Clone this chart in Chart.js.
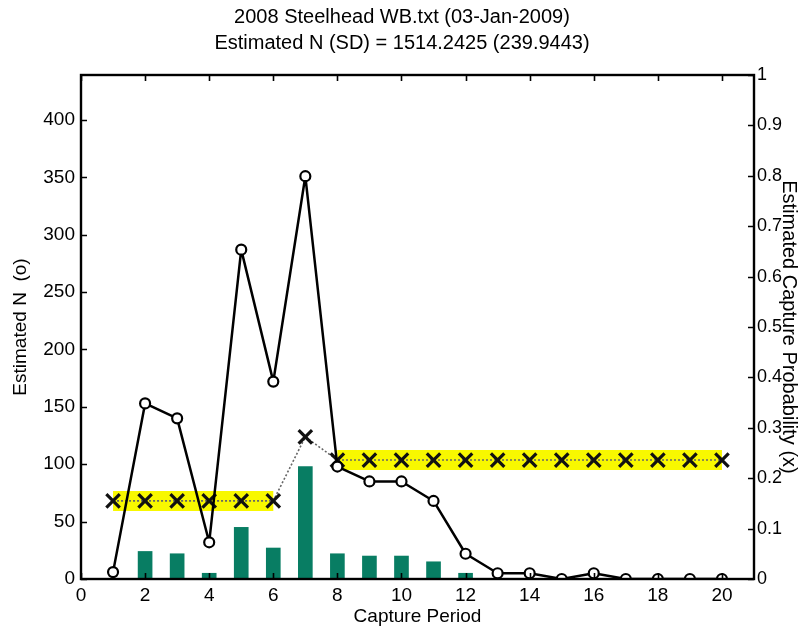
<!DOCTYPE html>
<html>
<head>
    <title>2008 Steelhead WB</title>
    <script src="https://cdn.jsdelivr.net/npm/chart.js"></script>
    <style>
        html, body { margin: 0; padding: 0; background: #fff; }
        #wrap { width: 804px; height: 632px; }
    </style>
</head>
<body>
    <div id="wrap">
        <canvas id="chart" width="804" height="632"></canvas>
    </div>

    <script>
        // capture periods 1..20
        const periods = [1, 2, 3, 4, 5, 6, 7, 8, 9, 10, 11, 12, 13, 14, 15, 16, 17, 18, 19, 20];
        // estimated N per period (o)
        const estN = [6, 153, 140, 32, 287, 172, 351, 98, 85, 85, 68, 22, 5, 5, 0, 5, 0, 0, 0, 0];
        // bar counts per period
        const barCounts = [0, 24, 22, 5, 45, 27, 98, 22, 20, 20, 15, 5, 0, 0, 0, 0, 0, 0, 0, 0];
        // estimated capture probability (x)
        const captureProb = [0.155, 0.155, 0.155, 0.155, 0.155, 0.155, 0.282,
                             0.236, 0.236, 0.236, 0.236, 0.236, 0.236, 0.236,
                             0.236, 0.236, 0.236, 0.236, 0.236, 0.236];
        // pooled strata band (gap at period 7)
        const bandProb = [0.155, 0.155, 0.155, 0.155, 0.155, 0.155, null,
                          0.236, 0.236, 0.236, 0.236, 0.236, 0.236, 0.236,
                          0.236, 0.236, 0.236, 0.236, 0.236, 0.236];

        const xTicks = [0, 2, 4, 6, 8, 10, 12, 14, 16, 18, 20];
        const nTicks = [0, 50, 100, 150, 200, 250, 300, 350, 400];
        const pTicks = [0, 0.1, 0.2, 0.3, 0.4, 0.5, 0.6, 0.7, 0.8, 0.9, 1];

        const titleLines = ['2008 Steelhead WB.txt (03-Jan-2009)', 'Estimated N (SD) = 1514.2425 (239.9443)'];

        const pts = arr => periods.map((p, i) => ({ x: p, y: arr[i] }));

        const FONT = "'Liberation Sans', Arial, sans-serif";
        Chart.defaults.font.family = FONT;
        Chart.defaults.color = '#000';

        // box around the plot with inward tick marks (matlab style)
        const frame = {
            id: 'frame',
            afterDatasetsDraw(chart) {
                const { ctx, chartArea: a, scales } = chart;
                const len = 6;
                ctx.save();
                ctx.strokeStyle = '#000';
                ctx.lineWidth = 1.6;
                ctx.beginPath();
                scales.x.ticks.forEach(t => {
                    const px = Math.round(scales.x.getPixelForValue(t.value)) + 0.5;
                    ctx.moveTo(px, a.bottom); ctx.lineTo(px, a.bottom - len);
                    ctx.moveTo(px, a.top); ctx.lineTo(px, a.top + len);
                });
                scales.y.ticks.forEach(t => {
                    const py = Math.round(scales.y.getPixelForValue(t.value)) + 0.5;
                    ctx.moveTo(a.left, py); ctx.lineTo(a.left + len, py);
                });
                scales.y2.ticks.forEach(t => {
                    const py = Math.round(scales.y2.getPixelForValue(t.value)) + 0.5;
                    ctx.moveTo(a.right, py); ctx.lineTo(a.right - len, py);
                });
                ctx.stroke();
                ctx.lineWidth = 2.4;
                ctx.strokeRect(a.left, a.top, a.right - a.left, a.bottom - a.top);
                ctx.restore();
            }
        };

        const ctx = document.getElementById('chart').getContext('2d');
        new Chart(ctx, {
            type: 'bar',
            data: {
                datasets: [
                    {
                        type: 'line',
                        label: 'Estimated N',
                        data: pts(estN),
                        yAxisID: 'y',
                        borderColor: '#000',
                        borderWidth: 2.5,
                        borderJoinStyle: 'round',
                        pointStyle: 'circle',
                        pointRadius: 5,
                        pointBorderWidth: 2.2,
                        pointBackgroundColor: '#fff',
                        pointBorderColor: '#000',
                        tension: 0,
                        order: 0
                    },
                    {
                        type: 'line',
                        label: 'Capture probability',
                        data: pts(captureProb),
                        yAxisID: 'y2',
                        borderColor: '#666',
                        borderWidth: 1.6,
                        borderDash: [2, 2],
                        pointStyle: 'crossRot',
                        pointRadius: 9.5,
                        pointBorderWidth: 3.2,
                        pointBorderColor: '#111',
                        tension: 0,
                        order: 1
                    },
                    {
                        type: 'line',
                        label: 'band',
                        data: pts(bandProb),
                        yAxisID: 'y2',
                        borderColor: '#f8f800',
                        borderWidth: 20,
                        borderCapStyle: 'butt',
                        pointRadius: 0,
                        spanGaps: false,
                        order: 2
                    },
                    {
                        label: 'count',
                        data: pts(barCounts),
                        yAxisID: 'y',
                        backgroundColor: '#087d63',
                        barThickness: 14,
                        order: 3
                    }
                ]
            },
            options: {
                responsive: false,
                animation: false,
                layout: { padding: 0 },
                plugins: {
                    legend: { display: false },
                    tooltip: { enabled: false },
                    title: {
                        display: true,
                        text: titleLines,
                        color: '#000',
                        font: { size: 20, weight: 'normal', lineHeight: '26px' },
                        padding: { top: 4, bottom: 19 }
                    }
                },
                scales: {
                    x: {
                        type: 'linear',
                        min: 0,
                        max: 21,
                        offset: false,
                        grid: { display: false, drawTicks: false },
                        border: { display: false },
                        afterBuildTicks: s => { s.ticks = xTicks.map(v => ({ value: v })); },
                        afterFit: s => { s.height = 53; },
                        ticks: { padding: 5, font: { size: 19 }, maxRotation: 0 },
                        title: { display: true, text: 'Capture Period', font: { size: 19 }, padding: { top: 0, bottom: 4 } }
                    },
                    y: {
                        type: 'linear',
                        position: 'left',
                        min: 0,
                        max: 439.2,
                        grid: { display: false, drawTicks: false },
                        border: { display: false },
                        afterBuildTicks: s => { s.ticks = nTicks.map(v => ({ value: v })); },
                        afterFit: s => { s.width = 81; },
                        ticks: { padding: 6, font: { size: 19 } },
                        title: { display: true, text: 'Estimated N  (o)', font: { size: 19 }, padding: { top: 9, bottom: 0 } }
                    },
                    y2: {
                        type: 'linear',
                        position: 'right',
                        min: 0,
                        max: 1,
                        grid: { display: false, drawTicks: false },
                        border: { display: false },
                        afterBuildTicks: s => { s.ticks = pTicks.map(v => ({ value: v })); },
                        afterFit: s => { s.width = 50; },
                        ticks: { padding: 3, font: { size: 18 }, callback: v => String(v) },
                        title: { display: true, text: 'Estimated Capture Probability (x)', font: { size: 20 }, padding: { top: 3, bottom: 0 } }
                    }
                }
            },
            plugins: [frame]
        });
    </script>
</body>
</html>
